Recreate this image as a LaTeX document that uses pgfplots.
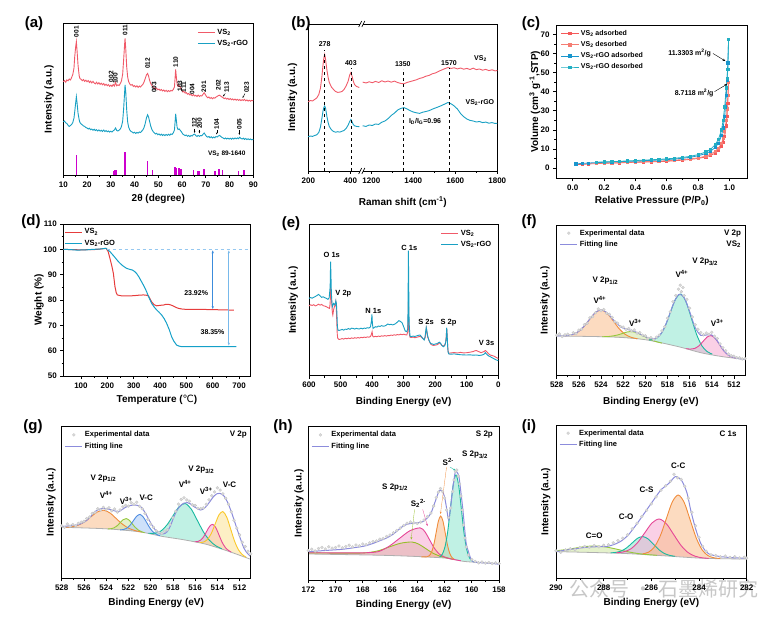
\documentclass[border=0pt]{standalone}
\usepackage{pgfplots}
\usepackage{pgfplotstable}
\pgfplotsset{compat=1.18}
\usepackage{fontspec}
\setmainfont{Liberation Sans}
\newfontfamily\dejavu{DejaVu Sans}
\newfontfamily\cjk{Noto Sans CJK SC}
\usetikzlibrary{arrows.meta}

\definecolor{cR}{RGB}{240,90,105}
\definecolor{cC}{RGB}{25,160,195}
\definecolor{cM}{RGB}{205,0,205}
\definecolor{dR}{RGB}{230,60,60}
\definecolor{dC}{RGB}{20,160,200}
\definecolor{dL}{RGB}{150,200,240}
\definecolor{dA}{RGB}{60,140,220}
\definecolor{dB}{RGB}{120,185,235}
\definecolor{bR}{RGB}{245,90,90}
\definecolor{bS}{RGB}{245,125,115}
\definecolor{bB}{RGB}{25,150,205}
\definecolor{bT}{RGB}{35,175,195}
\definecolor{xFit}{RGB}{140,140,220}
\definecolor{xBg}{RGB}{175,175,175}
\definecolor{oL}{RGB}{240,140,60}\definecolor{oF}{RGB}{250,190,140}
\definecolor{gL}{RGB}{150,200,60}\definecolor{gF}{RGB}{205,230,160}
\definecolor{tL}{RGB}{25,185,160}\definecolor{tF}{RGB}{140,230,205}
\definecolor{pL}{RGB}{230,70,150}\definecolor{pF}{RGB}{245,170,210}
\definecolor{uL}{RGB}{80,140,225}\definecolor{uF}{RGB}{165,200,245}
\definecolor{yL}{RGB}{250,200,40}\definecolor{yF}{RGB}{252,225,150}
\definecolor{vL}{RGB}{150,190,40}\definecolor{vF}{RGB}{200,190,130}

\newcommand\ftA{\bfseries\fontsize{6.5}{7}\selectfont}
\newcommand\ftB{\bfseries\fontsize{7}{8}\selectfont}
\newcommand\ftX{\bfseries\fontsize{8}{9}\selectfont}
\newcommand\ftL{\bfseries\fontsize{15}{16}\selectfont}

\pgfplotsset{
 base/.style={scale only axis, anchor=south west, clip=false,
  axis line style={line width=0.8pt},
  tick align=outside, tick pos=left,
  major tick length=3pt, minor tick length=1.8pt,
  every tick/.style={black, line width=0.6pt},
  label style={font=\bfseries\fontsize{10}{11}\selectfont},
  tick label style={font=\bfseries\fontsize{8}{9}\selectfont},
  /pgf/number format/assume math mode=true,
  /pgf/number format/1000 sep={},
  legend style={draw=none, fill=none, font=\bfseries\fontsize{7.5}{8.5}\selectfont, row sep=0.5pt, inner sep=1pt},
  legend cell align=left},
 labpos/.style 2 args={xlabel style={at={(axis description cs:0.5,#1)},anchor=center},
  ylabel style={at={(axis description cs:#2,0.5)},anchor=center}},
 xps/.style={base, x dir=reverse, ymin=0, ytick=\empty, axis on top, minor x tick num=1,
  xlabel={Binding Energy (eV)}, ylabel={Intensity (a.u.)},
  legend style={at={(0.01,0.99)}, anchor=north west}},
 fl/.style={draw=none, fill=#1, fill opacity=0.55, forget plot, smooth},
 cl/.style={#1, line width=0.9pt, forget plot, smooth},
 ex/.style={only marks, mark=*, mark size=1.5pt, mark options={fill=gray!30, draw=gray!50, line width=0.2pt}},
 ft/.style={xFit, line width=1pt, smooth},
}

% ---------------- (a) XRD
\pgfplotstableread[row sep=\\]{x y\\
10 93.3\\10.5 94.5\\11 92.8\\11.5 95.1\\12 94.2\\12.5 96.0\\13 95.0\\13.5 97.5\\14 100.5\\14.5 107\\14.8 118\\15.2 128\\15.5 133.3\\15.8 124\\16.2 110\\16.7 99\\17 96.5\\17.5 95.6\\18 94.3\\18.5 95.5\\19 93.6\\19.5 94.8\\20 93.2\\20.5 94.4\\21 92.5\\21.5 93.8\\22 92.1\\22.5 93.6\\23 92.0\\23.5 91.2\\24 92.8\\24.5 91.0\\25 92.3\\25.5 90.6\\26 91.8\\26.5 90.2\\27 91.5\\27.5 89.6\\28 90.8\\28.5 89.3\\29 90.4\\29.5 88.7\\30 89.9\\30.5 88.6\\31 90.5\\31.5 89.0\\32 92.5\\32.5 89.2\\33 90.2\\33.5 89.5\\34 91.5\\34.5 94\\35 101\\35.4 115\\35.8 130\\36.0 136.7\\36.3 126\\36.7 108\\37.1 98\\37.5 93.5\\38 91.0\\38.5 89.8\\39 90.5\\39.5 88.6\\40 89.4\\40.5 88.0\\41 89.2\\41.5 87.6\\42 88.9\\42.5 88.0\\43 89.5\\43.5 90.5\\44 93\\44.5 96.5\\45 100\\45.5 101.5\\45.9 99\\46.3 95\\46.8 91.5\\47.3 89.5\\47.8 88.0\\48.3 87.0\\48.8 86.0\\49.3 86.8\\49.8 85.2\\50.3 85.9\\50.8 84.6\\51.3 85.5\\51.8 84.1\\52.3 85.0\\52.8 83.6\\53.3 84.7\\53.8 83.3\\54.3 84.4\\54.8 83.5\\55.3 84.6\\55.8 84.0\\56.3 85.5\\56.8 88\\57.1 98\\57.3 105.5\\57.6 98\\57.9 91\\58.3 88.5\\58.8 89.5\\59.3 87.5\\59.8 85.5\\60.3 83.0\\60.8 83.6\\61.3 81.9\\61.8 82.4\\62.3 80.8\\62.8 81.5\\63.3 80.0\\63.8 80.6\\64.3 79.2\\64.8 80.5\\65.3 79.0\\65.8 79.7\\66.3 78.6\\66.8 79.9\\67.3 78.5\\67.8 79.4\\68.3 79.0\\68.8 80.6\\69.3 82.3\\69.8 80.5\\70.3 78.4\\70.8 77.2\\71.3 78.0\\71.8 76.6\\72.3 77.5\\72.8 76.2\\73.3 77.3\\73.8 76.8\\74.3 77.9\\74.8 78.6\\75.3 79.4\\75.8 79.8\\76.3 78.9\\76.8 78.0\\77.3 77.2\\77.8 76.4\\78.3 77.1\\78.8 75.9\\79.3 76.7\\79.8 75.5\\80.3 76.4\\80.8 75.2\\81.3 76.1\\81.8 75.0\\82.3 75.9\\82.8 74.8\\83.3 75.7\\83.8 74.6\\84.3 75.5\\84.8 74.4\\85.3 75.3\\85.8 74.5\\86.3 75.6\\86.8 74.2\\87.3 75.0\\87.8 73.9\\88.3 74.8\\88.8 73.8\\89.3 74.6\\90 74.2\\}\aR
\pgfplotstableread[row sep=\\]{x y\\
10 53.3\\10.5 54.0\\11 52.2\\11.5 51.5\\12 49.8\\12.5 48.6\\13 49.5\\13.5 50.5\\14 52.5\\14.5 57\\14.8 63\\15.2 72\\15.5 78.3\\15.8 72\\16.2 62\\16.7 55\\17 52.5\\17.5 51.0\\18 50.1\\18.5 49.0\\19 48.6\\19.5 47.5\\20 47.0\\20.5 46.0\\21 46.8\\21.5 45.3\\22 46.0\\22.5 44.8\\23 45.7\\23.5 44.5\\24 45.3\\24.5 44.0\\25 45.1\\25.5 43.8\\26 44.8\\26.5 43.6\\27 45.0\\27.5 43.5\\28 44.4\\28.5 43.2\\29 44.0\\29.5 42.9\\30 43.8\\30.5 43.0\\31 44.2\\31.5 45.0\\32 47.0\\32.5 44.5\\33 44.0\\33.5 44.8\\34 46.0\\34.5 48.5\\35 54\\35.4 66\\35.8 82\\36.0 90\\36.3 83\\36.7 65\\37.1 53\\37.5 48\\38 45.0\\38.5 43.6\\39 43.0\\39.5 42.0\\40 42.8\\40.5 41.6\\41 42.6\\41.5 41.9\\42 43.0\\42.5 42.5\\43 43.8\\43.5 45.0\\44 47.5\\44.5 51.5\\45 57\\45.5 60.2\\45.9 58\\46.3 54\\46.8 49\\47.3 45.5\\47.8 43.5\\48.3 42.3\\48.8 41.0\\49.3 41.7\\49.8 40.3\\50.3 41.1\\50.8 39.8\\51.3 40.8\\51.8 39.5\\52.3 40.6\\52.8 39.4\\53.3 40.5\\53.8 39.6\\54.3 40.7\\54.8 39.8\\55.3 41.0\\55.8 40.6\\56.3 42.0\\56.8 45\\57.1 54\\57.3 61.2\\57.6 55\\57.9 48\\58.3 45.5\\58.8 46.0\\59.3 44.5\\59.8 43.0\\60.3 41.0\\60.8 40.2\\61.3 39.4\\61.8 40.0\\62.3 38.7\\62.8 39.6\\63.3 38.4\\63.8 39.5\\64.3 39.0\\64.8 40.5\\65.3 40.9\\65.8 39.4\\66.3 38.5\\66.8 39.6\\67.3 38.6\\67.8 39.5\\68.3 39.2\\68.8 40.6\\69.3 42.0\\69.8 40.2\\70.3 38.6\\70.8 37.8\\71.3 38.5\\71.8 37.3\\72.3 38.2\\72.8 37.0\\73.3 38.0\\73.8 37.2\\74.3 38.4\\74.8 38.0\\75.3 39.0\\75.8 39.6\\76.3 38.5\\76.8 37.6\\77.3 37.0\\77.8 36.2\\78.3 37.0\\78.8 36.0\\79.3 36.9\\79.8 35.9\\80.3 36.8\\80.8 35.8\\81.3 36.9\\81.8 36.0\\82.3 37.0\\82.8 36.2\\83.3 37.1\\83.8 36.3\\84.3 37.8\\84.8 36.6\\85.3 36.0\\85.8 36.8\\86.3 35.6\\86.8 36.5\\87.3 35.4\\87.8 36.2\\88.3 35.3\\88.8 36.0\\89.3 35.2\\90 35.7\\}\aC
\pgfplotstableread[row sep=\\]{x y\\
15.6 20\\31.2 4.3\\31.8 5\\32.3 5\\36.0 22.7\\45.5 14\\47.6 5\\57.0 8.3\\57.7 7.3\\58.7 6.7\\59.5 5.7\\64.7 5\\66.4 4.3\\67.1 4.3\\69.2 5.7\\73.9 4.3\\75.5 5.7\\77.1 4.7\\83.8 4.3\\86.1 5\\}\aS

% ---------------- (b) Raman
\pgfplotstableread[row sep=\\]{x y\\
200 69.3\\210 70.5\\220 70.0\\230 71.5\\240 73.0\\250 76.5\\258 83\\265 95\\270 106\\274 113\\278 116.5\\282 112\\286 105\\290 99\\295 93\\300 88.5\\310 84\\320 81.5\\330 79.5\\340 78.6\\350 78.9\\360 79.5\\370 81.5\\380 85\\390 90\\397 96\\403 98.5\\408 95\\414 90\\420 86.5\\430 84.5\\443 83.5\\}\bRl
\pgfplotstableread[row sep=\\]{x y\\
459 88.9\\475 88.0\\490 89.2\\505 88.3\\520 89.6\\535 88.5\\550 90.2\\565 89.0\\580 90.0\\595 88.8\\610 89.9\\625 88.5\\640 87.6\\655 87.2\\670 88.5\\685 89.4\\700 90.3\\715 91.2\\730 92.6\\745 93.4\\760 94.8\\775 95.6\\790 97.2\\805 98.0\\820 99.6\\835 101.0\\850 102.3\\865 103.5\\880 102.6\\895 103.2\\910 102.1\\925 103.0\\940 101.8\\955 102.6\\970 101.5\\985 102.8\\1000 101.4\\1015 102.0\\1030 100.8\\1045 101.6\\1060 100.4\\1075 101.2\\1090 100.1\\1100 100.5\\}\bRr
\pgfplotstableread[row sep=\\]{x y\\
200 34.3\\210 35.0\\220 34.6\\230 35.5\\240 36.2\\250 38.5\\258 44\\265 53\\270 60\\274 63.5\\278 65\\282 63\\286 58\\290 53\\295 48\\300 44.5\\310 41.2\\320 39.5\\330 38.8\\340 39.3\\350 38.9\\360 39.7\\370 40.5\\380 42.5\\390 46\\397 49.5\\403 51.5\\408 49.5\\414 46.5\\420 45.2\\430 44.6\\443 44.3\\}\bCl
\pgfplotstableread[row sep=\\]{x y\\
459 45.2\\475 44.6\\490 46.0\\505 45.5\\520 47.0\\535 46.6\\550 48.8\\565 50.0\\580 52.4\\595 55.6\\610 57.8\\625 60.9\\640 62.5\\655 63.4\\670 62.1\\685 60.3\\700 59.0\\715 58.2\\730 57.6\\745 58.8\\760 59.5\\775 60.3\\790 61.8\\805 63.0\\820 64.2\\835 65.5\\850 67.0\\865 68.5\\880 67.2\\895 65.0\\910 62.0\\925 57.5\\940 54.3\\955 52.0\\970 50.6\\985 50.0\\1000 49.0\\1015 49.5\\1030 48.4\\1045 48.9\\1060 47.8\\1075 48.4\\1090 47.5\\1100 47.8\\}\bCr

% ---------------- (c) BET
\pgfplotstableread[row sep=\\]{x y\\
0.02 1.8\\0.06 1.9\\0.1 2.1\\0.15 2.3\\0.2 2.5\\0.25 2.6\\0.3 2.7\\0.35 2.9\\0.4 3.0\\0.45 3.1\\0.5 3.2\\0.55 3.4\\0.6 3.5\\0.65 3.8\\0.7 4.1\\0.75 4.5\\0.8 5.0\\0.85 5.8\\0.88 6.6\\0.91 7.8\\0.93 9.2\\0.95 11.5\\0.96 13.5\\0.97 16.5\\0.98 22\\0.985 27\\0.99 34\\0.995 44.7\\}\cRa
\pgfplotstableread[row sep=\\]{x y\\
0.995 44.7\\0.99 38\\0.985 31\\0.98 25\\0.97 19\\0.96 15.5\\0.95 13\\0.93 10.4\\0.91 8.8\\0.88 7.2\\0.85 6.2\\0.8 5.3\\0.75 4.8\\0.7 4.4\\0.65 4.1\\0.6 3.8\\0.55 3.6\\0.5 3.4\\0.45 3.3\\0.4 3.1\\0.35 3.0\\0.3 2.8\\0.25 2.7\\0.2 2.6\\0.15 2.4\\}\cRd
\pgfplotstableread[row sep=\\]{x y\\
0.02 2.1\\0.06 2.4\\0.1 2.6\\0.15 2.8\\0.2 3.0\\0.25 3.2\\0.3 3.3\\0.35 3.5\\0.4 3.6\\0.45 3.8\\0.5 4.0\\0.55 4.2\\0.6 4.4\\0.65 4.7\\0.7 5.1\\0.75 5.6\\0.8 6.4\\0.85 7.6\\0.88 8.8\\0.91 10.8\\0.93 13\\0.95 17\\0.96 21\\0.97 27\\0.975 32\\0.98 38\\0.985 46\\0.99 55\\0.995 67.5\\}\cBa
\pgfplotstableread[row sep=\\]{x y\\
0.995 67.5\\0.99 51.5\\0.985 47\\0.98 42\\0.97 32\\0.96 25\\0.95 20\\0.93 15\\0.91 12.3\\0.88 9.8\\0.85 8.4\\0.8 7.0\\0.75 6.1\\0.7 5.5\\0.65 5.1\\0.6 4.8\\0.55 4.5\\0.5 4.3\\0.45 4.1\\0.4 3.9\\0.35 3.7\\0.3 3.5\\0.25 3.3\\0.2 3.2\\0.15 3.0\\}\cBd

% ---------------- (d) TGA
\pgfplotstableread[row sep=\\]{x y\\
33 100\\60 99.9\\100 99.8\\150 99.9\\172 100.1\\195 100.4\\203 99.2\\210 96.4\\217 93.5\\223 90.5\\229 85.3\\234 82.8\\238 82\\250 81.7\\261 81.6\\280 81.6\\299 81.7\\320 81.9\\337 82\\348 81.9\\356 81.6\\362 80.5\\368 79.3\\377 78.2\\387 77.7\\400 77.9\\413 78\\422 78.3\\432 78.3\\442 78\\451 77.6\\460 77.1\\470 76.7\\485 76.4\\501 76.3\\552 76.3\\600 76.2\\640 76.1\\680 76\\}\dRt
\pgfplotstableread[row sep=\\]{x y\\
33 100\\60 99.9\\84 99.7\\120 99.8\\147 100\\170 100.1\\195 100.4\\210 99.1\\220 97.9\\229 96.8\\240 95.4\\248 94.5\\260 93.4\\273 92.5\\285 92.1\\296 91.8\\304 91.2\\311 90.5\\320 89.1\\330 87.2\\340 85.3\\349 83.3\\358 81\\368 78.7\\378 77.2\\387 76.1\\396 75.2\\406 74.1\\416 72.6\\425 70.8\\435 68.3\\444 65.5\\452 63.8\\463 62.2\\472 61.8\\482 61.6\\552 61.6\\620 61.6\\690 61.6\\}\dCt

% ---------------- (e) survey
\pgfplotstableread[row sep=\\]{x y\\
600 69.7\\595 70.9\\590 70.2\\585 71.0\\580 69.8\\575 70.4\\570 71.5\\565 70.6\\560 71.3\\555 70.0\\550 69.6\\545 69.0\\540 68.0\\535 67.3\\533 72\\531.5 88\\530 80\\528 73\\526 63\\524.5 60.7\\522 66\\520 68.5\\518 70\\516 72\\515 74\\513.5 68\\512 55\\510.5 42\\509 37.5\\507 36.8\\505 36.3\\500 36.5\\495 37.2\\490 36.6\\485 37.4\\480 36.9\\475 37.6\\470 37.0\\465 37.8\\460 37.3\\455 38.0\\450 37.5\\445 38.2\\440 37.6\\435 38.4\\430 38.0\\425 38.6\\420 38.2\\415 38.8\\410 38.5\\405 39.2\\402 41.5\\400 44.0\\398 39.5\\395 38.8\\390 39.4\\385 39.0\\380 39.6\\375 39.2\\370 39.9\\365 39.5\\360 40.1\\355 39.6\\350 40.2\\345 40.0\\340 40.6\\335 40.3\\330 40.9\\325 40.5\\320 41.2\\315 40.8\\310 41.5\\305 41.0\\300 41.5\\295 41.0\\290 40.7\\287 44\\285.5 60\\284.8 74\\284 62\\283 45\\282 42\\280 38.5\\275 38.2\\270 38.6\\265 38.0\\260 38.3\\255 38.7\\250 39.2\\245 39.0\\240 37.5\\235 36.3\\232 38\\229.5 44\\228 47.3\\226 43\\224 38.5\\222 37.3\\218 34\\214 31.5\\210 30.7\\205 30.2\\200 30.6\\195 30.8\\190 31.8\\186 33.0\\182 31.5\\178 30.0\\174 29.7\\170 30.5\\167 33\\165 39\\163.5 47.3\\162 40\\160.5 30\\159 24\\157 22.5\\150 22.8\\140 23.2\\130 22.7\\120 23.3\\110 22.8\\100 23.0\\90 23.5\\80 24.1\\75 24.8\\70 25.2\\65 24.5\\60 23.8\\55 23.0\\50 23.6\\45 24.2\\41 25.2\\37 24.0\\30 21.7\\25 20.6\\20 20.2\\15 19.7\\10 18.9\\5 18.0\\0 17.3\\}\eR
\pgfplotstableread[row sep=\\]{x y\\
600 77.3\\595 78.2\\590 77.5\\585 78.4\\580 79.2\\575 80.1\\570 81.3\\565 80.0\\560 78.3\\555 78.9\\550 78.0\\545 77.4\\540 76.3\\536 78\\533 89\\531.5 114\\530 95\\529 82\\527.5 74\\526 69\\524 70.5\\522 72.3\\520 71.5\\518 70.7\\516 73\\515 74.7\\514 73.5\\513 72.3\\511.5 62\\510 49\\508 45.5\\505 45.2\\500 45.7\\495 46.3\\490 45.6\\485 46.5\\480 46.3\\475 47.2\\470 46.4\\465 47.5\\460 47.3\\455 46.6\\450 47.4\\445 46.9\\440 46.7\\435 47.5\\430 46.8\\425 47.6\\420 47.3\\415 48.0\\410 47.6\\405 49.0\\402 55\\400.5 61.3\\399 52\\397 47.3\\393 48.2\\390 49.0\\385 48.6\\380 49.7\\375 49.2\\370 50.1\\365 49.5\\360 49.7\\355 50.6\\350 51.7\\345 51.0\\340 51.4\\335 50.8\\330 51.3\\325 52.2\\320 53.6\\315 55.0\\310 54.2\\305 53.0\\300 49.0\\295 44.7\\290 44.0\\287 47\\286 70\\285 125\\284 95\\283 60\\282 49\\280 40\\278 39.0\\270 39.6\\265 39.2\\260 39.7\\255 40.2\\250 40.6\\248 40.7\\244 39.2\\240 37.5\\235 35.7\\232 39\\229.5 46\\228.5 48.3\\226 44\\224 40\\220 35.5\\215 32.3\\210 31.8\\205 31.2\\200 31.7\\195 32.0\\190 32.8\\187 33.5\\183 32.4\\178 30.0\\174 29.0\\170 30.0\\167 33\\165 38\\163.5 48\\162 40\\160.5 29\\159 23.5\\157 21.7\\150 21.5\\140 21.8\\130 21.3\\120 21.0\\110 20.8\\100 20.7\\90 20.9\\80 20.5\\70 20.7\\60 20.2\\50 20.8\\45 21.6\\41 23.0\\37 21.5\\30 19.6\\25 19.0\\20 18.0\\15 17.2\\10 16.3\\5 15.6\\0 15.0\\}\eC

% ---------------- (f) V 2p VS2
\pgfplotstableread[row sep=\\]{x y\\528 39.7\\523 38.7\\520 36\\517 29\\515 23\\513 19\\511 16.3\\}\tfBg
\pgfplotstableread[row sep=\\]{x y\\520.7 36.9\\521.25 38.3\\521.8 41.2\\522.35 46.8\\522.9 54.9\\523.45 62.4\\524.0 65.7\\524.55 62.7\\525.1 55.4\\525.65 47.9\\526.2 42.9\\526.75 40.7\\527.3 39.9\\}\tfO
\pgfplotstableread[row sep=\\]{x y\\518.5 32.58\\518.95 33.85\\519.4 35.55\\519.85 37.95\\520.3 40.47\\520.75 42.88\\521.2 44.08\\521.65 43.69\\522.1 42.09\\522.55 40.6\\523.0 39.65\\523.45 39.09\\523.9 38.96\\}\tfG
\pgfplotstableread[row sep=\\]{x y\\513.95 21.5\\514.425 24.2\\514.9 30.0\\515.375 41.4\\515.85 57.85\\516.325 73.98\\516.8 81.7\\517.275 76.64\\517.75 63.05\\518.225 49.16\\518.7 40.17\\519.175 36.43\\519.65 35.78\\}\tfT
\pgfplotstableread[row sep=\\]{x y\\511.8 17.58\\512.175 18.69\\512.55 20.99\\512.925 25.1\\513.3 31.1\\513.675 37.15\\514.05 40.1\\514.425 38.65\\514.8 34.1\\515.175 29.73\\515.55 27.25\\515.925 26.58\\516.3 27.1\\}\tfP
\pgfplotstableread[row sep=\\]{x y\\528 39.75\\527.5 39.8\\527 40.1\\526.5 41.4\\526 44.4\\525.5 49.8\\525 56.8\\524.5 63.2\\524 65.8\\523.5 63.3\\523 57.35\\522.5 51.35\\522 47.6\\521.5 45.95\\521 44.34\\520.5 41.8\\520 39.1\\519.5 37.0\\519 37.6\\518.5 43.3\\518 55.4\\517.5 70.8\\517 81.1\\516.5 78.2\\516 64.15\\515.5 48.2\\515 40.4\\514.5 40.7\\514 40.7\\513.5 34.7\\513 26.1\\512.5 20.5\\512 18.1\\511.5 17.0\\511 16.3\\}\tfFit
\pgfplotstableread[row sep=\\]{x y\\528 40.5\\527.75 41.8\\527.5 39.2\\527.25 40.9\\527 41.5\\526.75 40.2\\526.5 42.9\\526.25 42.0\\526 45.6\\525.75 46.5\\525.5 51.0\\525.25 52.4\\525 57.9\\524.75 59.1\\524.5 63.0\\524.25 66.8\\524 65.0\\523.75 66.1\\523.5 62.5\\523.25 61.4\\523 58.4\\522.75 54.0\\522.5 52.5\\522.25 49.2\\522 48.6\\521.75 46.3\\521.5 47.2\\521.25 44.9\\521 45.8\\520.75 42.6\\520.5 43.1\\520.25 40.5\\520 39.9\\519.75 37.4\\519.5 38.1\\519.25 36.2\\519 38.5\\518.75 40.6\\518.5 44.8\\518.25 49.0\\518 57.5\\517.75 63.9\\517.5 74.0\\517.25 80.2\\517 86.5\\516.85 90.5\\516.75 84.0\\516.6 88.2\\516.5 80.0\\516.25 76.4\\516 67.5\\515.75 58.8\\515.5 51.0\\515.25 46.5\\515 43.2\\514.75 41.0\\514.5 42.6\\514.25 41.5\\514 43.4\\513.75 39.5\\513.5 37.2\\513.25 31.8\\513 28.0\\512.75 25.0\\512.5 21.8\\512.25 20.1\\512 19.5\\511.75 18.0\\511.5 17.9\\511.25 16.8\\511 17.0\\}\tfE

% ---------------- (g) V 2p VS2-rGO
\pgfplotstableread[row sep=\\]{x y\\528 51\\524 49.5\\521 46.5\\519 42\\517 38.5\\515 34\\513 27\\511 19\\}\tgBg
\pgfplotstableread[row sep=\\]{x y\\520.8 46.25\\521.375 47.675\\521.95 49.95\\522.525 54.03\\523.1 59.8\\523.675 65.48\\524.25 68.09\\524.825 66.11\\525.4 61.23\\525.975 56.24\\526.55 52.96\\527.125 51.47\\527.7 51.09\\}\tgO
\pgfplotstableread[row sep=\\]{x y\\520.55 45.59\\520.825 46.61\\521.1 48.2\\521.375 50.78\\521.65 54.45\\521.925 58.03\\522.2 59.7\\522.475 58.58\\522.75 55.55\\523.025 52.43\\523.3 50.4\\523.575 49.58\\523.85 49.45\\}\tgG
\pgfplotstableread[row sep=\\]{x y\\519.15 42.54\\519.45 43.81\\519.75 46.09\\520.05 50.06\\520.35 55.64\\520.65 61.11\\520.95 63.89\\521.25 62.15\\521.55 57.65\\521.85 53.05\\522.15 50.05\\522.45 48.75\\522.75 48.45\\}\tgU
\pgfplotstableread[row sep=\\]{x y\\513.6 29.5\\514.15 32.63\\514.7 37.85\\515.25 46.41\\515.8 57.9\\516.35 69.24\\516.9 74.78\\517.45 71.49\\518.0 62.35\\518.55 53.06\\519.1 47.13\\519.65 45.06\\520.2 45.1\\}\tgT
\pgfplotstableread[row sep=\\]{x y\\512.75 26.24\\513.025 28.06\\513.3 31.05\\513.575 36.11\\513.85 43.28\\514.125 50.34\\514.4 53.9\\514.675 52.26\\514.95 47.13\\515.225 41.61\\515.5 38.13\\515.775 36.71\\516.05 36.6\\}\tgP
\pgfplotstableread[row sep=\\]{x y\\511.4 21.0\\511.75 23.7\\512.1 28.5\\512.45 37.1\\512.8 49.2\\513.15 61.03\\513.5 66.75\\513.85 63.48\\514.2 54.2\\514.55 44.73\\514.9 38.75\\515.25 36.26\\515.6 35.75\\}\tgY
\pgfplotstableread[row sep=\\]{x y\\528 51.7\\527.3 52.5\\526.6 53.3\\526.1 55.5\\525.7 58.3\\525.3 63.0\\525.0 66.7\\524.6 69.2\\524.2 69.7\\523.8 69.2\\523.5 68.3\\523.2 67.3\\522.9 66.7\\522.6 68.5\\522.3 70.7\\521.9 72.6\\521.5 73.3\\521.2 73.0\\520.9 71.7\\520.6 67.5\\520.3 61.7\\520.0 55.5\\519.7 50\\519.4 46.3\\519.1 44.3\\518.8 44.5\\518.5 46.7\\518.2 53.0\\517.9 61.7\\517.6 68.5\\517.3 72.7\\517.0 75.2\\516.7 75.7\\516.4 74.3\\516.1 71.7\\515.8 69.6\\515.5 68.3\\515.2 69.8\\514.9 73.3\\514.6 77.8\\514.3 82.3\\514.05 84.5\\513.8 85\\513.6 84.2\\513.4 82.3\\513.1 76.5\\512.8 68.3\\512.5 58.5\\512.2 48.3\\511.9 38.8\\511.6 30\\511.3 25.0\\511.0 21.7\\}\tgFit
\pgfplotstableread[row sep=\\]{x y\\528 52.5\\527.75 51.0\\527.5 54.3\\527.25 52.2\\527 53.8\\526.75 52.6\\526.5 55.0\\526.25 56.2\\526 57.0\\525.75 59.8\\525.5 61.2\\525.25 64.9\\525 66.0\\524.75 69.5\\524.5 68.2\\524.25 71.0\\524 69.0\\523.75 70.6\\523.5 67.5\\523.25 69.3\\523 66.2\\522.75 68.4\\522.5 71.5\\522.25 73.0\\522 72.2\\521.75 75.6\\521.5 74.0\\521.25 76.1\\521 72.0\\520.75 69.5\\520.5 64.8\\520.25 59.0\\520 54.2\\519.75 51.0\\519.5 47.5\\519.25 45.8\\519 44.9\\518.75 47.0\\518.5 48.5\\518.25 53.8\\518 60.5\\517.75 67.0\\517.5 74.2\\517.25 78.9\\517 80.5\\516.75 78.4\\516.5 77.0\\516.25 73.5\\516 72.8\\515.75 70.0\\515.5 69.8\\515.25 70.4\\515 74.0\\514.75 78.5\\514.5 82.6\\514.25 86.4\\514 90.5\\513.75 88.2\\513.5 84.5\\513.25 80.0\\513 74.0\\512.75 66.5\\512.5 58.0\\512.25 50.2\\512 43.5\\511.75 36.0\\511.5 31.8\\511.25 27.0\\511 24.5\\}\tgE

% ---------------- (h) S 2p
\pgfplotstableread[row sep=\\]{x y\\172 26\\166 24.5\\162 22\\160.5 18.5\\158 16.5\\}\thBg
\pgfplotstableread[row sep=\\]{x y\\159.76 18.1\\159.96 18.97\\160.16 21.93\\160.36 29.89\\160.56 46.24\\160.76 70.71\\160.96 94.57\\161.16 105.04\\161.36 95.51\\161.56 72.57\\161.76 49.04\\161.96 33.41\\162.16 25.8\\162.36 23.13\\}\thT
\pgfplotstableread[row sep=\\]{x y\\161.29 20.8\\161.455 22.53\\161.62 26.76\\161.785 35.1\\161.95 47.23\\162.115 58.97\\162.28 63.98\\162.445 59.18\\162.61 47.73\\162.775 36.08\\162.94 28.24\\163.105 24.49\\163.27 23.25\\163.7 23.1\\}\thO
\pgfplotstableread[row sep=\\]{x y\\160.8 19.22\\161.3 20.45\\161.7 21.6\\162.05 23.33\\162.4 26.15\\162.75 31.87\\163.1 40.29\\163.45 48.5\\163.8 52.13\\164.55 49.2\\165.3 41.66\\166.05 33.91\\166.8 28.6\\167.55 27.39\\168.3 27.08\\169.5 27.08\\171 27.25\\172 27.3\\}\thP
\pgfplotstableread[row sep=\\]{x y\\161.41 20.78\\161.91 22.43\\162.41 24.22\\162.91 27.27\\163.41 31.68\\163.91 35.99\\164.41 38.01\\165.21 36.81\\166.01 33.3\\166.81 29.4\\167.61 27.4\\168.41 26.9\\170 26.9\\172 27.2\\}\thG
\pgfplotstableread[row sep=\\]{x y\\172 28.3\\171 29.3\\170 30.2\\169.5 30.7\\169 31.6\\168.5 32.6\\168 33.6\\167.6 35\\167.2 36.8\\166.8 39.0\\166.3 41.7\\165.8 45.5\\165.4 50.0\\165.1 53.3\\164.8 55.5\\164.4 56.7\\164.0 57.2\\163.6 58.3\\163.3 61.5\\163.0 66.7\\162.8 74.0\\162.6 81.7\\162.45 87.5\\162.3 90\\162.15 88.5\\162.0 83.3\\161.85 72.0\\161.7 60\\161.58 70.0\\161.45 85\\161.32 99.0\\161.2 108.3\\161.07 107.5\\160.94 103.3\\160.8 88.0\\160.65 70\\160.5 48.0\\160.4 36.0\\160.28 30\\160.1 22.5\\159.92 18.3\\159.5 17.5\\159 17.0\\158.5 16.6\\158.15 16.0\\158 16.0\\}\thFit
\pgfplotstableread[row sep=\\]{x y\\172 29.5\\171.75 30.8\\171.5 29.0\\171.25 31.5\\171 32.6\\170.75 31.0\\170.5 33.2\\170.25 31.8\\170 32.5\\169.75 34.0\\169.5 32.2\\169.25 33.5\\169 34.8\\168.75 33.1\\168.5 35.0\\168.25 34.2\\168 36.0\\167.75 35.4\\167.5 37.2\\167.25 38.5\\167 39.0\\166.75 40.8\\166.5 41.5\\166.25 43.6\\166 45.0\\165.75 47.2\\165.5 49.5\\165.25 52.0\\165 54.5\\164.75 56.8\\164.5 58.0\\164.25 57.2\\164 56.5\\163.75 57.9\\163.5 60.0\\163.25 63.5\\163 67.0\\162.8 74.0\\162.6 82.5\\162.45 88.0\\162.3 91.5\\162.15 88.5\\162 82.0\\161.85 70.0\\161.7 62.5\\161.55 72.0\\161.4 88.5\\161.3 100.0\\161.2 108.5\\161.1 110.0\\161.0 104.0\\160.9 96.0\\160.8 84.0\\160.7 70.0\\160.6 55.0\\160.5 42.0\\160.4 33.0\\160.25 25.0\\160 20.5\\159.75 18.6\\159.5 17.2\\159.25 18.0\\159 16.9\\158.75 17.5\\158.5 16.5\\158.25 17.2\\158 16.4\\}\thE

% ---------------- (i) C 1s
\pgfplotstableread[row sep=\\]{x y\\290 26.7\\287.3 25\\285.6 22.7\\283.8 20\\282 19.3\\}\tiBg
\pgfplotstableread[row sep=\\]{x y\\283.1 19.75\\283.37 20.53\\283.62 22.63\\283.87 28.45\\284.12 40.48\\284.37 58.25\\284.62 75.68\\284.87 83.3\\285.12 76.43\\285.37 59.75\\285.62 42.73\\285.87 31.41\\286.12 26.1\\286.37 24.44\\}\tiO
\pgfplotstableread[row sep=\\]{x y\\283.6 19.95\\283.87 20.5\\284.17 22.15\\284.47 25.9\\284.77 33.3\\285.07 44.0\\285.37 54.55\\285.67 59.29\\285.97 55.4\\286.27 45.7\\286.57 35.86\\286.87 29.32\\287.17 26.42\\287.47 25.51\\}\tiP
\pgfplotstableread[row sep=\\]{x y\\285.01 22.01\\285.235 22.95\\285.46 24.89\\285.685 28.66\\285.91 34.01\\286.135 39.33\\286.36 41.73\\286.585 39.94\\286.81 35.24\\287.035 30.49\\287.26 27.35\\287.485 25.92\\287.71 25.46\\}\tiT
\pgfplotstableread[row sep=\\]{x y\\285.77 22.99\\286.195 23.8\\286.62 24.98\\287.045 26.86\\287.47 29.21\\287.895 31.28\\288.32 32.34\\288.745 31.81\\289.17 30.28\\289.595 28.64\\290 27.6\\}\tiG
\pgfplotstableread[row sep=\\]{x y\\290 26.7\\289.5 28.5\\289 30.2\\288.7 31\\288.3 31.6\\287.9 31.7\\287.6 33.5\\287.3 36.7\\287.0 42.5\\286.8 48.3\\286.5 58.0\\286.2 68.3\\285.9 78.5\\285.6 88.3\\285.3 94.3\\285.15 98.0\\285.0 101.7\\284.85 100.5\\284.7 96.7\\284.5 85.0\\284.35 68.3\\284.15 50.0\\283.93 35\\283.75 28.0\\283.58 24.3\\283.3 22.5\\283.1 21.7\\282.6 20.6\\282 20\\}\tiFit
\pgfplotstableread[row sep=\\]{x y\\290 27.5\\289.8 26.0\\289.6 28.4\\289.4 29.5\\289.2 28.6\\289 30.8\\288.8 31.9\\288.6 31.0\\288.4 32.8\\288.2 31.5\\288 33.0\\287.8 33.6\\287.6 35.5\\287.4 37.8\\287.2 40.1\\287 43.5\\286.8 49.5\\286.6 55.0\\286.4 61.8\\286.2 68.0\\286 74.5\\285.8 81.5\\285.6 88.0\\285.4 92.5\\285.2 97.0\\285.05 104.0\\284.9 100.5\\284.75 99.0\\284.6 92.0\\284.45 80.0\\284.3 66.0\\284.15 52.5\\284 41.0\\283.85 32.0\\283.7 27.0\\283.5 23.5\\283.3 22.8\\283.1 21.5\\282.9 22.3\\282.7 20.9\\282.5 21.6\\282.3 20.4\\282.1 21.0\\282 20.2\\}\tiE

\begin{document}
\begin{tikzpicture}[x=1pt,y=1pt]
\path[use as bounding box] (0,0) rectangle (783,616);

% ===== (a)
\begin{axis}[base, at={(63.3pt,441pt)}, width=190pt, height=151.7pt,
 xmin=10, xmax=90, ymin=0, ymax=151.7, xtick={10,20,...,90}, minor x tick num=1, ytick=\empty,
 xlabel={2θ (degree)}, ylabel={Intensity (a.u.)}, labpos={-0.16}{-0.075},
 legend style={at={(0.70,0.985)},anchor=north west}]
\addplot[cR, line width=0.9pt] table {\aR}; \addlegendentry{VS\textsubscript{2}}
\addplot[cC, line width=0.9pt] table {\aC}; \addlegendentry{VS\textsubscript{2}-rGO}
\addplot[cM, ycomb, line width=1.4pt, forget plot] table {\aS};
\begin{scope}[every node/.style={font=\ftA, rotate=90, inner sep=0.5pt}]
\node at (axis cs:15.5,143.3) {001};
\node at (axis cs:30.1,98.3) {002};
\node at (axis cs:31.9,96.7) {100};
\node at (axis cs:36,145) {011};
\node at (axis cs:45.5,111.7) {012};
\node at (axis cs:48.2,87.7) {003};
\node at (axis cs:57.3,113) {110};
\node at (axis cs:59.1,89) {103};
\node at (axis cs:60.7,88) {111};
\node at (axis cs:64.3,86) {004};
\node at (axis cs:69.2,88.3) {201};
\node at (axis cs:75.3,90) {202};
\node at (axis cs:78.8,87.5) {113};
\node at (axis cs:87.2,87.5) {023};
\node at (axis cs:65.2,52.3) {112};
\node at (axis cs:67.4,51.7) {200};
\node at (axis cs:74.6,51) {104};
\node at (axis cs:84.1,51) {005};
\end{scope}
\draw[-{Stealth[length=2pt]}, line width=0.4pt] (axis cs:65.3,45.5) -- (axis cs:65.3,42);
\draw[-{Stealth[length=2pt]}, line width=0.4pt] (axis cs:67.3,45) -- (axis cs:67.3,41.5);
\draw[-{Stealth[length=2pt]}, line width=0.4pt] (axis cs:74.6,44.5) -- (axis cs:74.6,40.5);
\draw[-{Stealth[length=2pt]}, line width=0.4pt] (axis cs:84.1,44.5) -- (axis cs:84.1,40);
\draw[-{Stealth[length=2pt]}, line width=0.4pt] (axis cs:78.2,81.5) -- (axis cs:77.2,78.5);
\draw[-{Stealth[length=2pt]}, line width=0.4pt] (axis cs:86.5,81.5) -- (axis cs:85.5,77);
\node[font=\bfseries\fontsize{6.5}{7}\selectfont] at (axis cs:78.8,21) {VS\textsubscript{2} 89-1640};
\end{axis}

% ===== (b)
\begin{axis}[base, at={(308.3pt,445pt)}, width=189pt, height=147pt,
 xmin=200, xmax=1100, ymin=0, ymax=147,
 xtick={200,400,500,700,900,1100}, xticklabels={200,400,1200,1400,1600,1800},
 minor xtick={300,600,800,1000}, ytick=\empty,
 xlabel={Raman shift (cm\textsuperscript{-1})}, ylabel={Intensity (a.u.)}, labpos={-0.21}{-0.083}]
\addplot[cR, line width=0.9pt] table {\bRl};
\addplot[cR, line width=0.9pt] table {\bRr};
\addplot[cC, line width=0.9pt] table {\bCl};
\addplot[cC, line width=0.9pt] table {\bCr};
\addplot[black, dashed, line width=0.6pt] coordinates {(278,0) (278,121)};
\addplot[black, dashed, line width=0.6pt] coordinates {(403,0) (403,102.7)};
\addplot[black, dashed, line width=0.6pt] coordinates {(650,0) (650,102)};
\addplot[black, dashed, line width=0.6pt] coordinates {(870,0) (870,103)};
\begin{scope}[every node/.style={font=\ftB, inner sep=0.5pt}]
\node at (axis cs:278,126.7) {278};
\node at (axis cs:403,107.7) {403};
\node at (axis cs:650,106.7) {1350};
\node at (axis cs:870,108) {1570};
\node at (axis cs:1020,112.7) {VS\textsubscript{2}};
\node at (axis cs:1017,68.3) {VS\textsubscript{2}-rGO};
\node at (axis cs:756,49.3) {I\textsubscript{D}/I\textsubscript{G}=0.96};
\end{scope}
\draw[white, line width=2.5pt] (axis cs:447,0) -- (axis cs:462,0);
\draw[white, line width=2.5pt] (axis cs:447,147) -- (axis cs:462,147);
\draw[line width=0.6pt] ([xshift=-1.5pt,yshift=-3pt]axis cs:447,0) -- ([xshift=1.5pt,yshift=3pt]axis cs:447,0);
\draw[line width=0.6pt] ([xshift=-1.5pt,yshift=-3pt]axis cs:462,0) -- ([xshift=1.5pt,yshift=3pt]axis cs:462,0);
\draw[line width=0.6pt] ([xshift=-1.5pt,yshift=-3pt]axis cs:447,147) -- ([xshift=1.5pt,yshift=3pt]axis cs:447,147);
\draw[line width=0.6pt] ([xshift=-1.5pt,yshift=-3pt]axis cs:462,147) -- ([xshift=1.5pt,yshift=3pt]axis cs:462,147);
\end{axis}

% ===== (c)
\begin{axis}[base, at={(556pt,437.7pt)}, width=191.7pt, height=153.3pt,
 xmin=-0.107, xmax=1.117, ymin=-5.4, ymax=74.9,
 xtick={0,0.2,0.4,0.6,0.8,1}, xticklabels={0.0,0.2,0.4,0.6,0.8,1.0},
 ytick={0,10,...,70}, minor x tick num=1, minor y tick num=1,
 xlabel={Relative Pressure (P/P\textsubscript{0})}, ylabel={Volume (cm\textsuperscript{3} g\textsuperscript{-1},STP)},
 labpos={-0.148}{-0.11},
 legend style={at={(0.02,0.985)},anchor=north west, font=\bfseries\fontsize{7}{8}\selectfont}]
\addplot[bR, line width=0.8pt, mark=square*, mark size=1.1pt] table {\cRa}; \addlegendentry{VS\textsubscript{2} adsorbed}
\addplot[bS, line width=0.8pt, mark=square*, mark size=1.1pt] table {\cRd}; \addlegendentry{VS\textsubscript{2} desorbed}
\addplot[bB, line width=0.8pt, mark=square*, mark size=1.1pt] table {\cBa}; \addlegendentry{VS\textsubscript{2}-rGO adsorbed}
\addplot[bT, line width=0.8pt, mark=square*, mark size=1.1pt] table {\cBd}; \addlegendentry{VS\textsubscript{2}-rGO desorbed}
\node[font=\ftB] at (axis cs:0.746,60.4) {11.3303 m\textsuperscript{2}/g};
\draw[-{Stealth[length=3pt]}, line width=0.4pt] (axis cs:0.895,60) -- (axis cs:0.975,56);
\node[font=\ftB] at (axis cs:0.775,39.4) {8.7118 m\textsuperscript{2}/g};
\draw[-{Stealth[length=3pt]}, line width=0.4pt] (axis cs:0.905,40) -- (axis cs:0.987,44);
\end{axis}

% ===== (d)
\begin{axis}[base, at={(63.3pt,240pt)}, width=187.4pt, height=152pt,
 xmin=33, xmax=744, ymin=50, ymax=110, xtick={100,200,...,700}, ytick={50,60,...,110},
 minor x tick num=1, minor y tick num=1,
 xlabel={Temperature ({\dejavu\mdseries ℃})}, ylabel={Weight (\%)}, labpos={-0.158}{-0.13},
 legend style={at={(0.0,0.99)},anchor=north west}]
\addplot[dR, line width=1pt] table {\dRt}; \addlegendentry{VS\textsubscript{2}}
\addplot[dC, line width=1pt] table {\dCt}; \addlegendentry{VS\textsubscript{2}-rGO}
\addplot[dL, dashed, line width=0.8pt, forget plot] coordinates {(197,100) (742,100)};
\draw[dA, {Stealth[length=3pt]}-{Stealth[length=3pt]}, line width=0.7pt] (axis cs:600,99.6) -- (axis cs:600,76.4);
\draw[dB, {Stealth[length=3pt]}-{Stealth[length=3pt]}, line width=1pt] (axis cs:661,99.6) -- (axis cs:661,62);
\node[font=\ftB] at (axis cs:537,82.9) {23.92\%};
\node[font=\ftB] at (axis cs:599,67.5) {38.35\%};
\end{axis}

% ===== (e)
\begin{axis}[base, at={(309pt,240.3pt)}, width=189.3pt, height=151.4pt,
 x dir=reverse, xmin=0, xmax=600, ymin=0, ymax=151.4, xtick={0,100,...,600}, minor x tick num=1, ytick=\empty,
 xlabel={Binding Energy (eV)}, ylabel={Intensity (a.u.)}, labpos={-0.172}{-0.083},
 legend style={at={(0.69,0.985)},anchor=north west}]
\addplot[cR, line width=0.9pt] table {\eR}; \addlegendentry{VS\textsubscript{2}}
\addplot[cC, line width=0.9pt] table {\eC}; \addlegendentry{VS\textsubscript{2}-rGO}
\begin{scope}[every node/.style={font=\bfseries\fontsize{7.5}{8}\selectfont, inner sep=0.5pt}]
\node at (axis cs:528,120.7) {O 1s};
\node at (axis cs:491,82.3) {V 2p};
\node at (axis cs:396,64.7) {N 1s};
\node at (axis cs:282,127.3) {C 1s};
\node at (axis cs:229,54) {S 2s};
\node at (axis cs:158,53.3) {S 2p};
\node at (axis cs:37,33) {V 3s};
\end{scope}
\end{axis}

% ===== (f)
\begin{axis}[xps, at={(556.7pt,240.3pt)}, width=188.3pt, height=150.7pt,
 xmin=511, xmax=528, ymax=150.7, xtick={512,514,...,528}, labpos={-0.177}{-0.062}]
\addplot[fl=oF] table {\tfO} \closedcycle;
\addplot[fl=gF] table {\tfG} \closedcycle;
\addplot[fl=tF] table {\tfT} \closedcycle;
\addplot[fl=pF] table {\tfP} \closedcycle;
\addplot[draw=none, fill=white, forget plot] table {\tfBg} \closedcycle;
\addplot[xBg, line width=0.8pt, forget plot, smooth] table {\tfBg};
\addplot[ex] table {\tfE}; \addlegendentry{Experimental data}
\addplot[cl=oL] table {\tfO};
\addplot[cl=gL] table {\tfG};
\addplot[cl=tL] table {\tfT};
\addplot[cl=pL] table {\tfP};
\addplot[ft] table {\tfFit}; \addlegendentry{Fitting line}
\begin{scope}[every node/.style={font=\ftX, inner sep=0.5pt}]
\node[anchor=east] at (axis cs:511.3,142.3) {V 2p};
\node[anchor=east] at (axis cs:511.3,131.5) {VS\textsubscript{2}};
\node at (axis cs:514.6,114) {V 2p\textsubscript{3/2}};
\node at (axis cs:516.7,101.7) {V\textsuperscript{4+}};
\node at (axis cs:513.5,53) {V\textsuperscript{3+}};
\node at (axis cs:523.6,94.7) {V 2p\textsubscript{1/2}};
\node at (axis cs:524.1,75.7) {V\textsuperscript{4+}};
\node at (axis cs:520.9,53) {V\textsuperscript{3+}};
\end{scope}
\end{axis}

% ===== (g)
\begin{axis}[xps, at={(61.7pt,37.7pt)}, width=189pt, height=151.6pt,
 xmin=511, xmax=528, ymax=151.6, xtick={512,514,...,528}, labpos={-0.16}{-0.057}]
\addplot[fl=oF] table {\tgO} \closedcycle;
\addplot[fl=gF] table {\tgG} \closedcycle;
\addplot[fl=uF] table {\tgU} \closedcycle;
\addplot[fl=tF] table {\tgT} \closedcycle;
\addplot[fl=pF] table {\tgP} \closedcycle;
\addplot[fl=yF] table {\tgY} \closedcycle;
\addplot[draw=none, fill=white, forget plot] table {\tgBg} \closedcycle;
\addplot[xBg, line width=0.8pt, forget plot, smooth] table {\tgBg};
\addplot[ex] table {\tgE}; \addlegendentry{Experimental data}
\addplot[cl=oL] table {\tgO};
\addplot[cl=gL] table {\tgG};
\addplot[cl=uL] table {\tgU};
\addplot[cl=tL] table {\tgT};
\addplot[cl=pL] table {\tgP};
\addplot[cl=yL] table {\tgY};
\addplot[ft] table {\tgFit}; \addlegendentry{Fitting line}
\begin{scope}[every node/.style={font=\ftX, inner sep=0.5pt}]
\node[anchor=east] at (axis cs:511.3,143.3) {V 2p};
\node at (axis cs:524.25,100) {V 2p\textsubscript{1/2}};
\node at (axis cs:524.0,83.3) {V\textsuperscript{4+}};
\node at (axis cs:522.2,77.7) {V\textsuperscript{3+}};
\node at (axis cs:520.4,81) {V-C};
\node at (axis cs:515.45,108.3) {V 2p\textsubscript{3/2}};
\node at (axis cs:516.9,94.3) {V\textsuperscript{4+}};
\node at (axis cs:515.0,87.3) {V\textsuperscript{3+}};
\node at (axis cs:512.9,93.3) {V-C};
\end{scope}
\end{axis}

% ===== (h)
\begin{axis}[xps, at={(308.3pt,36pt)}, width=190.7pt, height=153.3pt,
 xmin=158, xmax=172, ymax=153.3, xtick={158,160,...,172}, labpos={-0.163}{-0.049}]
\addplot[fl=vF] table {\thG} \closedcycle;
\addplot[fl=pF] table {\thP} \closedcycle;
\addplot[fl=oF] table {\thO} \closedcycle;
\addplot[fl=tF] table {\thT} \closedcycle;
\addplot[draw=none, fill=white, forget plot] table {\thBg} \closedcycle;
\addplot[xBg, line width=0.8pt, forget plot, smooth] table {\thBg};
\addplot[ex] table {\thE}; \addlegendentry{Experimental data}
\addplot[cl=vL] table {\thG};
\addplot[cl=pL] table {\thP};
\addplot[cl=oL] table {\thO};
\addplot[cl=tL] table {\thT};
\addplot[ft] table {\thFit}; \addlegendentry{Fitting line}
\begin{scope}[every node/.style={font=\ftX, inner sep=0.5pt}]
\node[anchor=east] at (axis cs:158.4,145) {S 2p};
\node at (axis cs:159.76,125) {S 2p\textsubscript{3/2}};
\node at (axis cs:161.72,118.3) {S\textsuperscript{2-}};
\node at (axis cs:163.92,76.5) {S\textsubscript{2}\textsuperscript{2-}};
\node at (axis cs:165.63,92.7) {S 2p\textsubscript{1/2}};
\end{scope}
\draw[tL, line width=0.3pt, -{Stealth[length=2.5pt]}] (axis cs:161.6,113) -- (axis cs:161.2,109.5);
\draw[oL, line width=0.3pt, -{Stealth[length=2.5pt]}] (axis cs:161.85,113) -- (axis cs:162.3,66);
\draw[pL, line width=0.3pt, -{Stealth[length=2.5pt]}] (axis cs:163.6,70.5) -- (axis cs:163.25,54);
\draw[vL, line width=0.3pt, -{Stealth[length=2.5pt]}] (axis cs:164.2,70.5) -- (axis cs:164.45,40.5);
\end{axis}

% ===== (i)
\begin{axis}[xps, at={(556pt,37.7pt)}, width=190.7pt, height=153.3pt,
 xmin=282, xmax=290, ymax=153.3, xtick={282,284,...,290}, labpos={-0.158}{-0.054}]
\addplot[fl=gF] table {\tiG} \closedcycle;
\addplot[fl=tF] table {\tiT} \closedcycle;
\addplot[fl=pF] table {\tiP} \closedcycle;
\addplot[fl=oF] table {\tiO} \closedcycle;
\addplot[draw=none, fill=white, forget plot] table {\tiBg} \closedcycle;
\addplot[xBg, line width=0.8pt, forget plot, smooth] table {\tiBg};
\addplot[ex] table {\tiE}; \addlegendentry{Experimental data}
\addplot[cl=gL] table {\tiG};
\addplot[cl=tL] table {\tiT};
\addplot[cl=pL] table {\tiP};
\addplot[cl=oL] table {\tiO};
\addplot[ft] table {\tiFit}; \addlegendentry{Fitting line}
\begin{scope}[every node/.style={font=\ftX, inner sep=0.5pt}]
\node[anchor=east] at (axis cs:282.4,145) {C 1s};
\node at (axis cs:284.87,112.3) {C-C};
\node at (axis cs:286.2,89) {C-S};
\node at (axis cs:287.06,61.7) {C-O};
\node at (axis cs:288.4,42.3) {C=O};
\end{scope}
\end{axis}

% panel letters
\node[font=\ftL] at (34,592.5) {(a)};
\node[font=\ftL] at (301,592.5) {(b)};
\node[font=\ftL] at (531,592.5) {(c)};
\node[font=\ftL] at (31,394) {(d)};
\node[font=\ftL] at (291,392) {(e)};
\node[font=\ftL] at (529,394) {(f)};
\node[font=\ftL] at (33,189) {(g)};
\node[font=\ftL] at (283,189) {(h)};
\node[font=\ftL] at (529,189) {(i)};

% watermark
\node[text=black, opacity=0.22, font=\cjk\fontsize{20}{20}\selectfont] at (664,27) {公众号 · 石墨烯研究};
\end{tikzpicture}
\end{document}
